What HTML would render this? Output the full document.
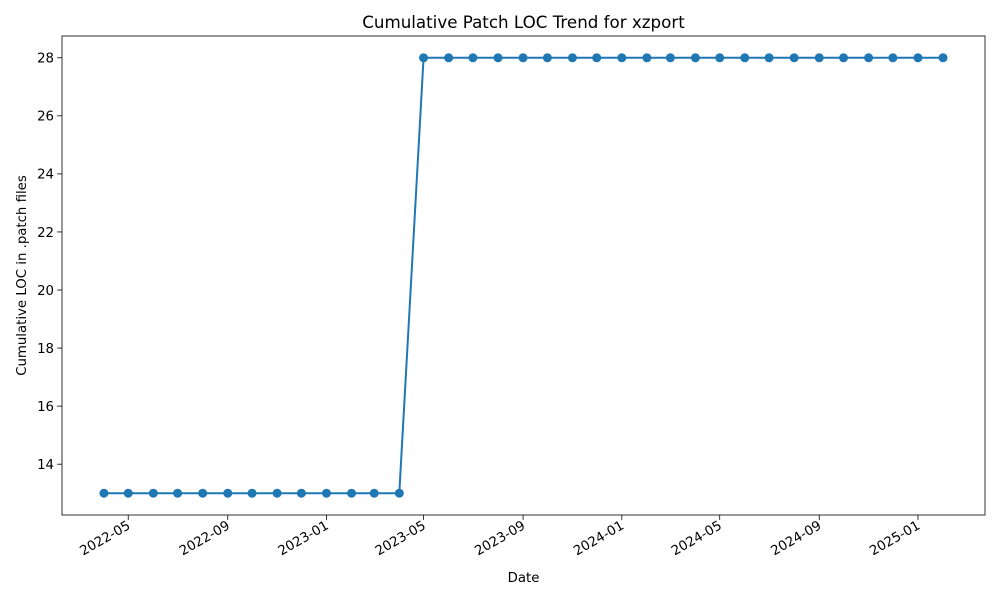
<!DOCTYPE html>
<html><head><meta charset="utf-8"><style>
body{margin:0;background:#fff;}
text{font-family:"DejaVu Sans","Liberation Sans",sans-serif;fill:#000;}
</style></head><body>
<svg id="chart" width="1000" height="600" xmlns="http://www.w3.org/2000/svg">
<rect width="1000" height="600" fill="#fff"/>
<text x="523.5" y="28" text-anchor="middle" font-size="16.7">Cumulative Patch LOC Trend for xzport</text>
<g id="plot"></g>
<text x="523.5" y="582" text-anchor="middle" font-size="13.3">Date</text>
<text transform="translate(26,275.5) rotate(-90)" text-anchor="middle" font-size="13.3">Cumulative LOC in .patch files</text>
</svg>
<script>
const dates = ["2022-04","2022-05","2022-06","2022-07","2022-08","2022-09","2022-10","2022-11","2022-12","2023-01","2023-02","2023-03","2023-04","2023-05","2023-06","2023-07","2023-08","2023-09","2023-10","2023-11","2023-12","2024-01","2024-02","2024-03","2024-04","2024-05","2024-06","2024-07","2024-08","2024-09","2024-10","2024-11","2024-12","2025-01","2025-02"];
const values = [13,13,13,13,13,13,13,13,13,13,13,13,13,28,28,28,28,28,28,28,28,28,28,28,28,28,28,28,28,28,28,28,28,28,28];
const xTicks = ["2022-05","2022-09","2023-01","2023-05","2023-09","2024-01","2024-05","2024-09","2025-01"];
const yTicks = [14,16,18,20,22,24,26,28];

const NS="http://www.w3.org/2000/svg";
const L=62,R=985,T=36,B=515;
const day=86400000;
function t(s){const p=s.split("-");return Date.UTC(+p[0],+p[1]-1,1);}
const t0=t(dates[0]), t1=t(dates[dates.length-1]);
const pad=(t1-t0)*0.05;
const xmin=t0-pad, xmax=t1+pad;
const vmin=Math.min(...values), vmax=Math.max(...values), vp=(vmax-vmin)*0.05;
const ymin=vmin-vp, ymax=vmax+vp;
const X=s=>L+(t(s)-xmin)/(xmax-xmin)*(R-L);
const Y=v=>B-(v-ymin)/(ymax-ymin)*(B-T);
const g=document.getElementById("plot");
function mk(tag,at){const e=document.createElementNS(NS,tag);for(const k in at)e.setAttribute(k,at[k]);g.appendChild(e);return e;}
xTicks.forEach(s=>{const x=X(s);
 const l=mk("line",{x1:x,x2:x,y1:B,y2:B+4.9,stroke:"#000","stroke-width":0.8});
 
 
 const tx=mk("text",{transform:`translate(${x+3},${B+13}) rotate(-30)`,"text-anchor":"end","font-size":13.3});
 
 
 tx.textContent=s;});
yTicks.forEach(v=>{const y=Y(v);
 const l=mk("line",{x1:L-4.9,x2:L,y1:y,y2:y,stroke:"#000","stroke-width":0.8});
 
 
 const tx=mk("text",{x:L-8,y:y+4.8,"text-anchor":"end","font-size":13.3});
 
 
 tx.textContent=v;});
const pts=dates.map((d,i)=>X(d)+","+Y(values[i])).join(" ");
const pl=mk("polyline",{points:pts,fill:"none",stroke:"#1f77b4","stroke-width":2});


dates.forEach((d,i)=>{const c=mk("circle",{cx:X(d),cy:Y(values[i]),r:4.5,fill:"#1f77b4"});
 
 });
const fr=mk("rect",{x:L,y:T,width:R-L,height:B-T,fill:"none",stroke:"#000","stroke-width":0.8});


</script>
</body></html>
